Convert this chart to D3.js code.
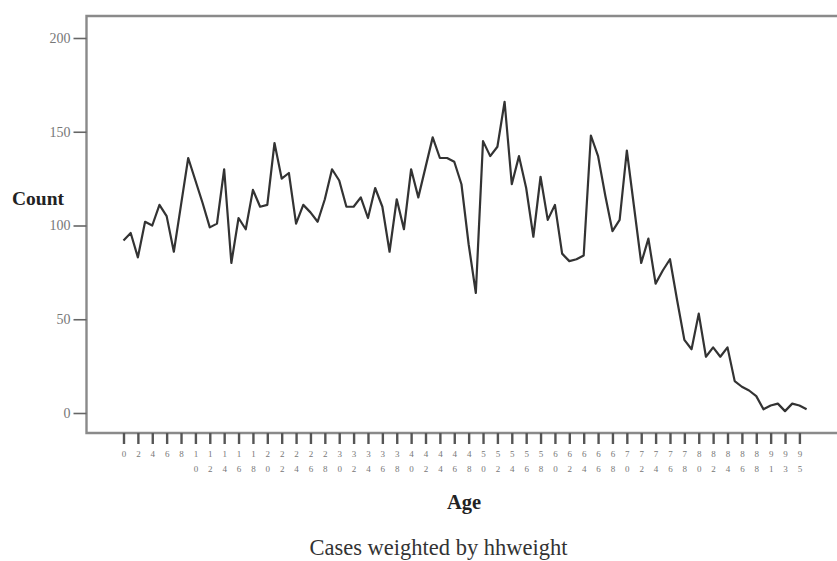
<!DOCTYPE html>
<html>
<head>
<meta charset="utf-8">
<script src="https://cdn.jsdelivr.net/npm/d3@7"></script>
<style>
  html, body { margin: 0; padding: 0; background: #fff; }
  svg { display: block; }
</style>
</head>
<body>
<svg id="chart" width="837" height="561"></svg>
<script>
// Age categories present in the data (90 is absent)
const ages = [
  0,1,2,3,4,5,6,7,8,9,10,11,12,13,14,15,16,17,18,19,
  20,21,22,23,24,25,26,27,28,29,30,31,32,33,34,35,36,37,38,39,
  40,41,42,43,44,45,46,47,48,49,50,51,52,53,54,55,56,57,58,59,
  60,61,62,63,64,65,66,67,68,69,70,71,72,73,74,75,76,77,78,79,
  80,81,82,83,84,85,86,87,88,89,91,92,93,94,95,96
];
// Weighted counts per age
const counts = [
  92,96,83,102,100,111,105,86,111,136,124,112,99,101,130,80,104,98,119,110,
  111,144,125,128,101,111,107,102,114,130,124,110,110,115,104,120,110,86,114,98,
  130,115,131,147,136,136,134,122,90,64,145,137,142,166,122,137,120,94,126,103,
  111,85,81,82,84,148,137,116,97,103,140,110,80,93,69,76,82,60,39,34,
  53,30,35,30,35,17,14,12,9,2,4,5,1,5,4,2
];
const yTicks = [0, 50, 100, 150, 200];
const xTitle = "Age";
const yTitle = "Count";
const footnote = "Cases weighted by hhweight";

const svg = d3.select("#chart");
const serif = "'Liberation Serif', 'Times New Roman', serif";

const frame = { left: 86.5, top: 16, bottom: 433, right: 837 };

const x = d3.scalePoint().domain(ages.map(String)).range([123.5, 806.6]);
const y = d3.scaleLinear().domain([0, 200]).range([413, 38]);

// Frame lines (top, left, bottom)
svg.append("path")
  .attr("d", `M${frame.right},${frame.top}H${frame.left}V${frame.bottom}H${frame.right}`)
  .attr("fill", "none").attr("stroke", "#8a8a8a").attr("stroke-width", 2.4);

// Y axis
const yAxis = svg.append("g")
  .attr("transform", `translate(${frame.left},0)`)
  .call(d3.axisLeft(y).tickValues(yTicks).tickSize(13).tickPadding(3).tickFormat(d3.format("d")));
yAxis.select(".domain").remove();
yAxis.selectAll(".tick line").attr("stroke", "#666").attr("stroke-width", 1.6);
yAxis.selectAll(".tick text")
  .attr("font-family", serif).attr("font-size", 14).attr("fill", "#777");

// X axis (every other category labelled)
const labelled = ages.filter((d, i) => i % 2 === 0).map(String);
const xAxis = svg.append("g")
  .attr("transform", `translate(0,${frame.bottom})`)
  .call(d3.axisBottom(x).tickValues(labelled).tickSize(11).tickFormat(""));
xAxis.select(".domain").remove();
xAxis.selectAll(".tick line").attr("stroke", "#555").attr("stroke-width", 2.4);
xAxis.selectAll(".tick").each(function(d) {
  const g = d3.select(this);
  const digits = String(d).split("");
  digits.forEach((ch, k) => {
    g.append("text")
      .attr("x", 0).attr("y", 24 + k * 14.5)
      .attr("text-anchor", "middle")
      .attr("font-family", serif).attr("font-size", 9)
      .attr("fill", "#777")
      .text(ch);
  });
});

// Line
const line = d3.line()
  .x((d, i) => x(String(ages[i])))
  .y(d => y(d));
svg.append("path")
  .datum(counts)
  .attr("d", line)
  .attr("fill", "none")
  .attr("stroke", "#333")
  .attr("stroke-width", 2.2)
  .attr("stroke-linejoin", "round");

// Titles
svg.append("text")
  .attr("x", 12).attr("y", 205)
  .attr("font-family", serif).attr("font-weight", "bold").attr("font-size", 19.5)
  .attr("fill", "#222").text(yTitle);
svg.append("text")
  .attr("x", 464).attr("y", 509)
  .attr("text-anchor", "middle")
  .attr("font-family", serif).attr("font-weight", "bold").attr("font-size", 20.5)
  .attr("fill", "#222").text(xTitle);
svg.append("text")
  .attr("x", 438.5).attr("y", 555)
  .attr("text-anchor", "middle")
  .attr("font-family", serif).attr("font-size", 22.5)
  .attr("fill", "#333").text(footnote);
</script>
</body>
</html>
